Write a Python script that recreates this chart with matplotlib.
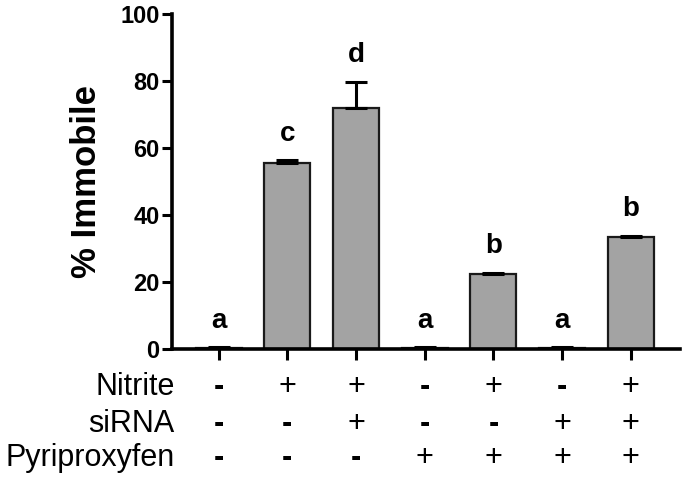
import numpy as np
import matplotlib
matplotlib.use("Agg")
import matplotlib.pyplot as plt

plt.rcParams['font.family'] = ['Liberation Sans', 'DejaVu Sans']

# data
means = [0.3, 55.4, 71.8, 0.3, 22.3, 0.3, 33.3]
errs = [0.3, 1.0, 8.0, 0.2, 0.5, 0.2, 0.5]
letters = ['a', 'c', 'd', 'a', 'b', 'a', 'b']
row_names = ['Nitrite', 'siRNA', 'Pyriproxyfen']
nitrite = ['-', '+', '+', '-', '+', '-', '+']
sirna = ['-', '-', '+', '-', '-', '+', '+']
pyriproxyfen = ['-', '-', '-', '+', '+', '+', '+']

x = np.arange(len(means))

fig = plt.figure(figsize=(6.85, 4.84), dpi=100)
ax = fig.add_axes([0.251, 0.279, 0.742, 0.692])

ax.bar(x, means, width=0.67, color='#a3a3a3', edgecolor='#1a1a1a', linewidth=1.6, zorder=2)
ax.errorbar(x, means, yerr=[np.zeros(len(errs)), errs], fmt='none', ecolor='black',
            elinewidth=2.2, capsize=8, capthick=2.2, zorder=3)

for xi, m, e, lab in zip(x, means, errs, letters):
    ax.text(xi, m + e + 4, lab, ha='center', va='bottom', fontsize=20, fontweight='bold')

ax.set_xlim(-0.68, 6.72)
ax.set_ylim(0, 100)
ax.set_yticks([0, 20, 40, 60, 80, 100])
ax.set_xticks(x)
ax.set_xticklabels([])
ax.tick_params(axis='y', labelsize=17, width=2.2, length=7, direction='out', pad=2)
ax.tick_params(axis='x', width=2.2, length=8, direction='out')
for t in ax.get_yticklabels():
    t.set_fontweight('bold')
ax.spines['top'].set_visible(False)
ax.spines['right'].set_visible(False)
ax.spines['left'].set_linewidth(2.6)
ax.spines['bottom'].set_linewidth(2.6)

ax.set_ylabel('% Immobile', fontsize=25, fontweight='bold', labelpad=12)

# treatment table under the axis
trans = ax.get_xaxis_transform()
row_y = [-0.113, -0.224, -0.325]
for name, signs, yy in zip(row_names, [nitrite, sirna, pyriproxyfen], row_y):
    ax.text(-0.64, yy, name, transform=trans, ha='right', va='center', fontsize=22)
    for xi, s in zip(x, signs):
        ax.text(xi, yy, s, transform=trans, ha='center', va='center', fontsize=22,
                fontweight='bold' if s == '-' else 'normal')

fig.savefig('out.png', dpi=100)
